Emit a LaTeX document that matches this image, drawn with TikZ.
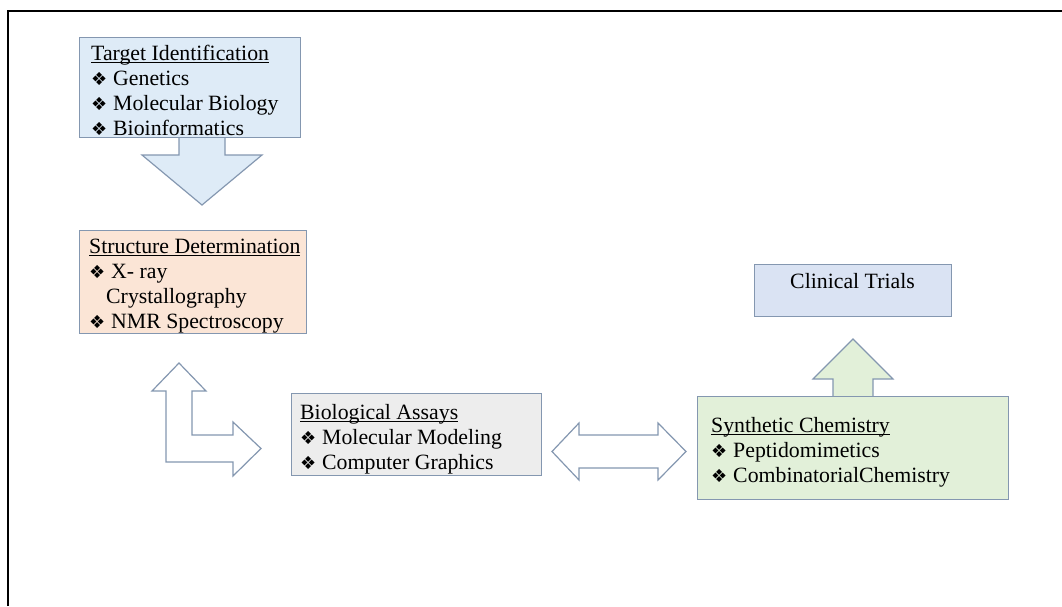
\documentclass[tikz,border=0pt]{standalone}
\usepackage{fontspec}
\setmainfont{Liberation Serif}
\newfontfamily\symfont{DejaVu Sans}
\newcommand{\bul}{\makebox[22pt][l]{\symfont\fontsize{18}{18}\selectfont ❖}}
\newcommand{\bulsp}{\hspace*{17pt}}
\newcommand{\ulx}[1]{\leavevmode\setbox0\hbox{#1}\rlap{\rule[-3pt]{\wd0}{1pt}}\box0}
\definecolor{edge}{HTML}{8497B0}
\definecolor{tgtfill}{HTML}{DEEBF7}
\definecolor{strfill}{HTML}{FBE5D6}
\definecolor{biofill}{HTML}{EDEDED}
\definecolor{synfill}{HTML}{E2F0D9}
\definecolor{clifill}{HTML}{DAE3F3}
\tikzset{
  box/.style={draw=edge, line width=1.2pt, rectangle, inner sep=0pt, anchor=north west},
  blockarrow/.style={draw=edge, line width=1.2pt, line join=miter},
  txt/.style={inner sep=0pt, anchor=base west, font=\fontsize{21.8}{25}\selectfont},
}
\begin{document}
\begin{tikzpicture}[x=1pt,y=-1pt]
\useasboundingbox (0,0) rectangle (1062,606);
% frame
\draw[line width=2pt] (8,606) -- (8,11) -- (1062,11);
% block arrows (drawn first, boxes cover their joins)
\draw[blockarrow, fill=tgtfill] (179,130) -- (179,155) -- (142,155) -- (202,205) -- (262,155) -- (225,155) -- (225,130) -- cycle;
\draw[blockarrow, fill=white] (179,363) -- (206,391) -- (192,391) -- (192,435) -- (233,435) -- (233,422) -- (261,448.5) -- (233,476) -- (233,462) -- (166,462) -- (166,391) -- (152,391) -- cycle;
\draw[blockarrow, fill=white] (552,451.5) -- (579,423) -- (579,435) -- (658,435) -- (658,423) -- (686,451.5) -- (658,480) -- (658,468) -- (579,468) -- (579,480) -- cycle;
\draw[blockarrow, fill=synfill] (833,402) -- (833,379) -- (813,379) -- (853,339) -- (893,379) -- (873,379) -- (873,402) -- cycle;
% boxes
\node[box, fill=tgtfill, minimum width=221pt, minimum height=100pt] (tgtbox) at (79,37) {};
\node[box, fill=strfill, minimum width=227pt, minimum height=103pt] (strbox) at (79,230) {};
\node[box, fill=biofill, minimum width=250pt, minimum height=82pt] (biobox) at (291,393) {};
\node[box, fill=synfill, minimum width=311pt, minimum height=103pt] (synbox) at (697,396) {};
\node[box, fill=clifill, minimum width=197pt, minimum height=52pt] (clibox) at (754,264) {};
% texts
\node[txt] (tgttxt) at (91,60) {\parbox[t]{250pt}{\ulx{Target Identification}\\\bul Genetics\\\bul Molecular Biology\\\bul Bioinformatics}};
\node[txt] (strtxt) at (89,253) {\parbox[t]{250pt}{\ulx{Structure Determination}\\\bul X- ray\\\bulsp Crystallography\\\bul NMR Spectroscopy}};
\node[txt] (biotxt) at (300,419) {\parbox[t]{250pt}{\ulx{Biological Assays}\\\bul Molecular Modeling\\\bul Computer Graphics}};
\node[txt] (syntxt) at (711,432) {\parbox[t]{300pt}{\ulx{Synthetic Chemistry}\\\bul Peptidomimetics\\\bul CombinatorialChemistry}};
\node[txt, anchor=base] (clitxt) at (852.5,288) {Clinical Trials};
\end{tikzpicture}
\end{document}
